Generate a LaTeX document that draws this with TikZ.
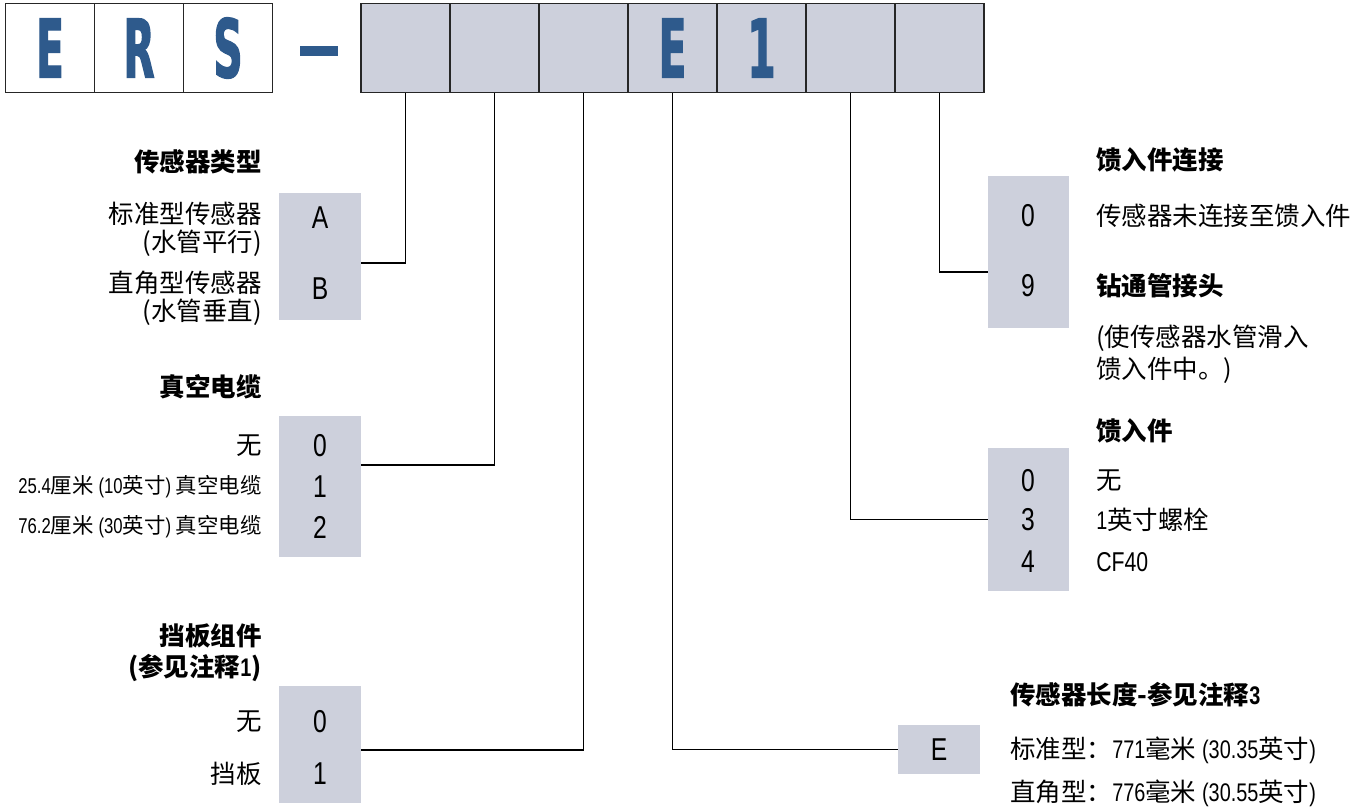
\documentclass[tikz,border=0pt]{standalone}
\usepackage{fontspec}
\setmainfont{Noto Sans CJK SC}
\newfontfamily\lat[FakeStretch=0.78]{Liberation Sans}
\newfontfamily\bigfont[FakeStretch=0.5,FakeBold=1.5]{DejaVu Sans}
\definecolor{codeblue}{HTML}{2E5A8C}
\definecolor{boxgrey}{HTML}{CDD0DC}

\begin{document}
\begin{tikzpicture}[x=0.02cm,y=-0.02cm]
\tikzset{codebox/.style={draw=black!85, line width=1pt, minimum width=1.78cm, minimum height=1.78cm, inner sep=0pt, text=codeblue, font=\bigfont\bfseries\fontsize{46}{46}\selectfont},
  optbox/.style={fill=boxgrey, inner sep=0pt, minimum width=1.64cm},
  opt/.style={inner sep=0pt, font=\lat\fontsize{18}{18}\selectfont},
  lbl/.style={inner sep=0pt, anchor=east, font=\fontsize{14.5}{16}\selectfont},
  small/.style={font=\fontsize{12.2}{14}\selectfont},
  rlbl/.style={lbl, anchor=west},
  head/.style={inner sep=0pt, anchor=east, font=\bfseries\fontsize{14.5}{17.5}\selectfont},
  rhead/.style={head, anchor=west},
  link/.style={line width=0.7pt}}
\useasboundingbox (0,0) rectangle (1371,808);
% model code
\node[codebox] (e) at (50,48) {E};
\node[codebox] (r) at (139,48) {R};
\node[codebox] (s) at (228,48) {S};
\node[fill=codeblue, inner sep=0pt, minimum width=0.76cm, minimum height=0.2cm] (dash) at (319,51) {};
\foreach \i/\t in {1/{},2/{},3/{},4/E,5/1,6/{},7/{}}
  \node[codebox, fill=boxgrey] (c\i) at (316.5+89*\i,48) {\t};
% sensor type
\node[optbox, minimum height=2.54cm] (sensor) at (320,256.5) {};
\node[head] (sensor-h) at (262,162) {传感器类型};
\node[opt] (sa) at (320,218) {A};
\node[opt] (sb) at (320,289) {B};
\node[lbl, align=right] (sa-t) at (262,229) {标准型传感器\\(水管平行)};
\node[lbl, align=right] (sb-t) at (262,298) {直角型传感器\\(水管垂直)};
% vacuum cable
\node[optbox, minimum height=2.82cm] (vac) at (320,486.5) {};
\node[head] (vac-h) at (262,387) {真空电缆};
\node[opt] (v0) at (320,446) {0};
\node[opt] (v1) at (320,487) {1};
\node[opt] (v2) at (320,527) {2};
\node[lbl] (v0-t) at (262,446) {无};
\node[lbl, small] (v1-t) at (262,487) {{\lat 25.4}厘米 {\lat (10}英寸{\lat )} 真空电缆};
\node[lbl, small] (v2-t) at (262,527) {{\lat 76.2}厘米 {\lat (30}英寸{\lat )} 真空电缆};
% baffle
\node[optbox, minimum height=2.34cm] (baffle) at (320,744.5) {};
\node[head, align=right] (baffle-h) at (262,652.5) {挡板组件\\(参见注释{\lat\bfseries 1})};
\node[opt] (b0) at (320,722) {0};
\node[opt] (b1) at (320,774) {1};
\node[lbl] (b0-t) at (262,722) {无};
\node[lbl] (b1-t) at (262,774) {挡板};
% feedthrough connection
\node[optbox, minimum width=1.62cm, minimum height=3.04cm] (conn) at (1028.5,252) {};
\node[rhead] (conn-h) at (1096,160) {馈入件连接};
\node[opt] (n0) at (1028,216) {0};
\node[opt] (n9) at (1028,286) {9};
\node[rlbl] (n0-t) at (1096,216) {传感器未连接至馈入件};
\node[rhead] (n9-t) at (1096,286) {钻通管接头};
\node[rlbl, align=left, font=\fontsize{14.5}{18.5}\selectfont] (n9-d) at (1096,354) {(使传感器水管滑入\\馈入件中。)};
% feedthrough
\node[optbox, minimum width=1.62cm, minimum height=2.86cm] (feed) at (1028.5,519.5) {};
\node[rhead] (feed-h) at (1096,431) {馈入件};
\node[opt] (f0) at (1028,481) {0};
\node[opt] (f3) at (1028,520) {3};
\node[opt] (f4) at (1028,562) {4};
\node[rlbl] (f0-t) at (1096,481) {无};
\node[rlbl] (f3-t) at (1096,520) {{\lat 1}英寸螺栓};
\node[rlbl] (f4-t) at (1096,562) {\lat\fontsize{15.5}{16}\selectfont CF40};
% sensor length
\node[optbox, minimum height=0.98cm] (len) at (939,749.5) {};
\node[rhead] (len-h) at (1010,695) {传感器长度-参见注释{\lat\bfseries 3}};
\node[opt] (le) at (939,750) {E};
\node[rlbl] (l1-t) at (1010,750) {标准型：{\lat 771}毫米 {\lat (30.35}英寸{\lat )}};
\node[rlbl] (l2-t) at (1010,793) {直角型：{\lat 776}毫米 {\lat (30.55}英寸{\lat )}};
% connectors
\draw[link] (c1.south) |- (sensor.east |- 0,263);
\draw[link] (c2.south) |- (vac.east |- 0,465);
\draw[link] (c3.south) |- (baffle.east |- 0,750);
\draw[link] (c4.south) |- (len.west);
\draw[link] (c6.south) |- (feed.west);
\draw[link] (c7.south) |- (conn.west |- 0,272);
\end{tikzpicture}
\end{document}
